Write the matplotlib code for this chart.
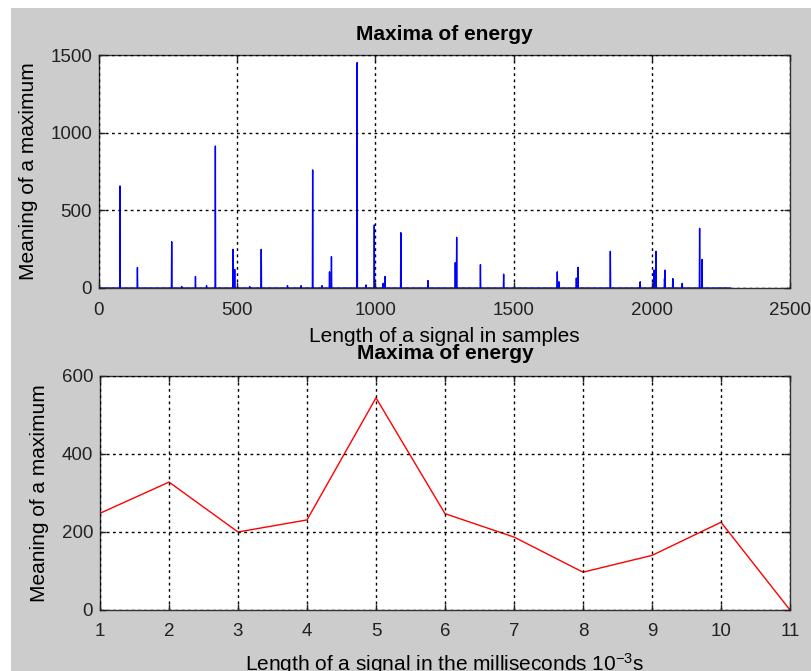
import numpy as np
import matplotlib.pyplot as plt
from matplotlib.patches import Rectangle

plt.rcParams['font.family'] = ['Liberation Sans', 'DejaVu Sans']
plt.rcParams['mathtext.fontset'] = 'custom'
plt.rcParams['mathtext.rm'] = 'Liberation Sans'
plt.rcParams['mathtext.it'] = 'Liberation Sans:italic'

# energy maxima found along the signal (sample index -> value)
n_samples = 2285
peak_pos = [0, 76, 139, 263, 299, 349, 389, 421, 485, 491, 545, 587, 682,
            731, 773, 807, 834, 841, 934, 966, 996, 1028, 1035, 1092, 1190,
            1289, 1294, 1380, 1464, 1658, 1664, 1727, 1733, 1850, 1958, 2008,
            2015, 2046, 2048, 2076, 2110, 2173, 2182]
peak_val = [85, 657, 132, 298, 10, 74, 15, 914, 249, 120, 10, 249, 15,
            15, 760, 15, 104, 202, 1451, 20, 406, 30, 74, 356, 48,
            163, 326, 150, 89, 104, 40, 64, 133, 236, 40, 116,
            236, 60, 115, 60, 30, 384, 184]

# maxima per millisecond
ms = [1, 2, 3, 4, 5, 6, 7, 8, 9, 10, 11]
ms_val = [248, 328, 200, 231, 544, 247, 187, 97, 140, 225, 0]

signal = np.zeros(n_samples)
signal[peak_pos] = peak_val

W, H = 811, 671
fig = plt.figure(figsize=(W / 100, H / 100), dpi=100)
fig.patch.set_facecolor('white')
fig.add_artist(Rectangle((11 / W, 0), 1, (H - 8) / H, transform=fig.transFigure,
                         facecolor='#cccccc', edgecolor='none', zorder=-10))

ax1 = fig.add_axes([99 / W, (H - 288) / H, 691 / W, 233 / H])
ax2 = fig.add_axes([100 / W, (H - 610) / H, 690 / W, 234 / H])

ax1.plot(np.arange(n_samples), signal, color='#0000ff', lw=1.0)
ax1.set_xlim(0, 2500)
ax1.set_ylim(0, 1500)
ax1.set_xticks([0, 500, 1000, 1500, 2000, 2500])
ax1.set_yticks([0, 500, 1000, 1500])
ax1.set_xlabel('Length of a signal in samples', fontsize=15, labelpad=6)
ax1.tick_params(axis='x', pad=10)
ax1.set_title('Maxima of energy', fontsize=15, fontweight='bold', pad=11)

ax2.plot(ms, ms_val, color='#ff0000', lw=1.0)
ax2.set_xlim(1, 11)
ax2.set_ylim(0, 600)
ax2.set_xticks(ms)
ax2.set_yticks([0, 200, 400, 600])
ax2.set_xlabel('Length of a signal in the milliseconds 10$^{-3}$s', fontsize=15, labelpad=8)
ax2.tick_params(axis='x', pad=9)
ax2.set_title('Maxima of energy', fontsize=15, fontweight='bold', pad=12)

for ax in (ax1, ax2):
    ax.set_facecolor('white')
    ax.set_ylabel('Meaning of a maximum', fontsize=15, labelpad=9)
    ax.grid(True, color='black', linestyle=(0, (2, 2.5)), lw=1.0)
    ax.set_axisbelow(False)
    ax.tick_params(direction='in', length=4, width=1, top=True, right=True,
                   labelsize=13.5, colors='#222222')
    ax.tick_params(axis='y', pad=5)
    for s in ax.spines.values():
        s.set_color('#333333')
        s.set_linewidth(1)

fig.savefig('out.png', dpi=100, facecolor=fig.get_facecolor())
